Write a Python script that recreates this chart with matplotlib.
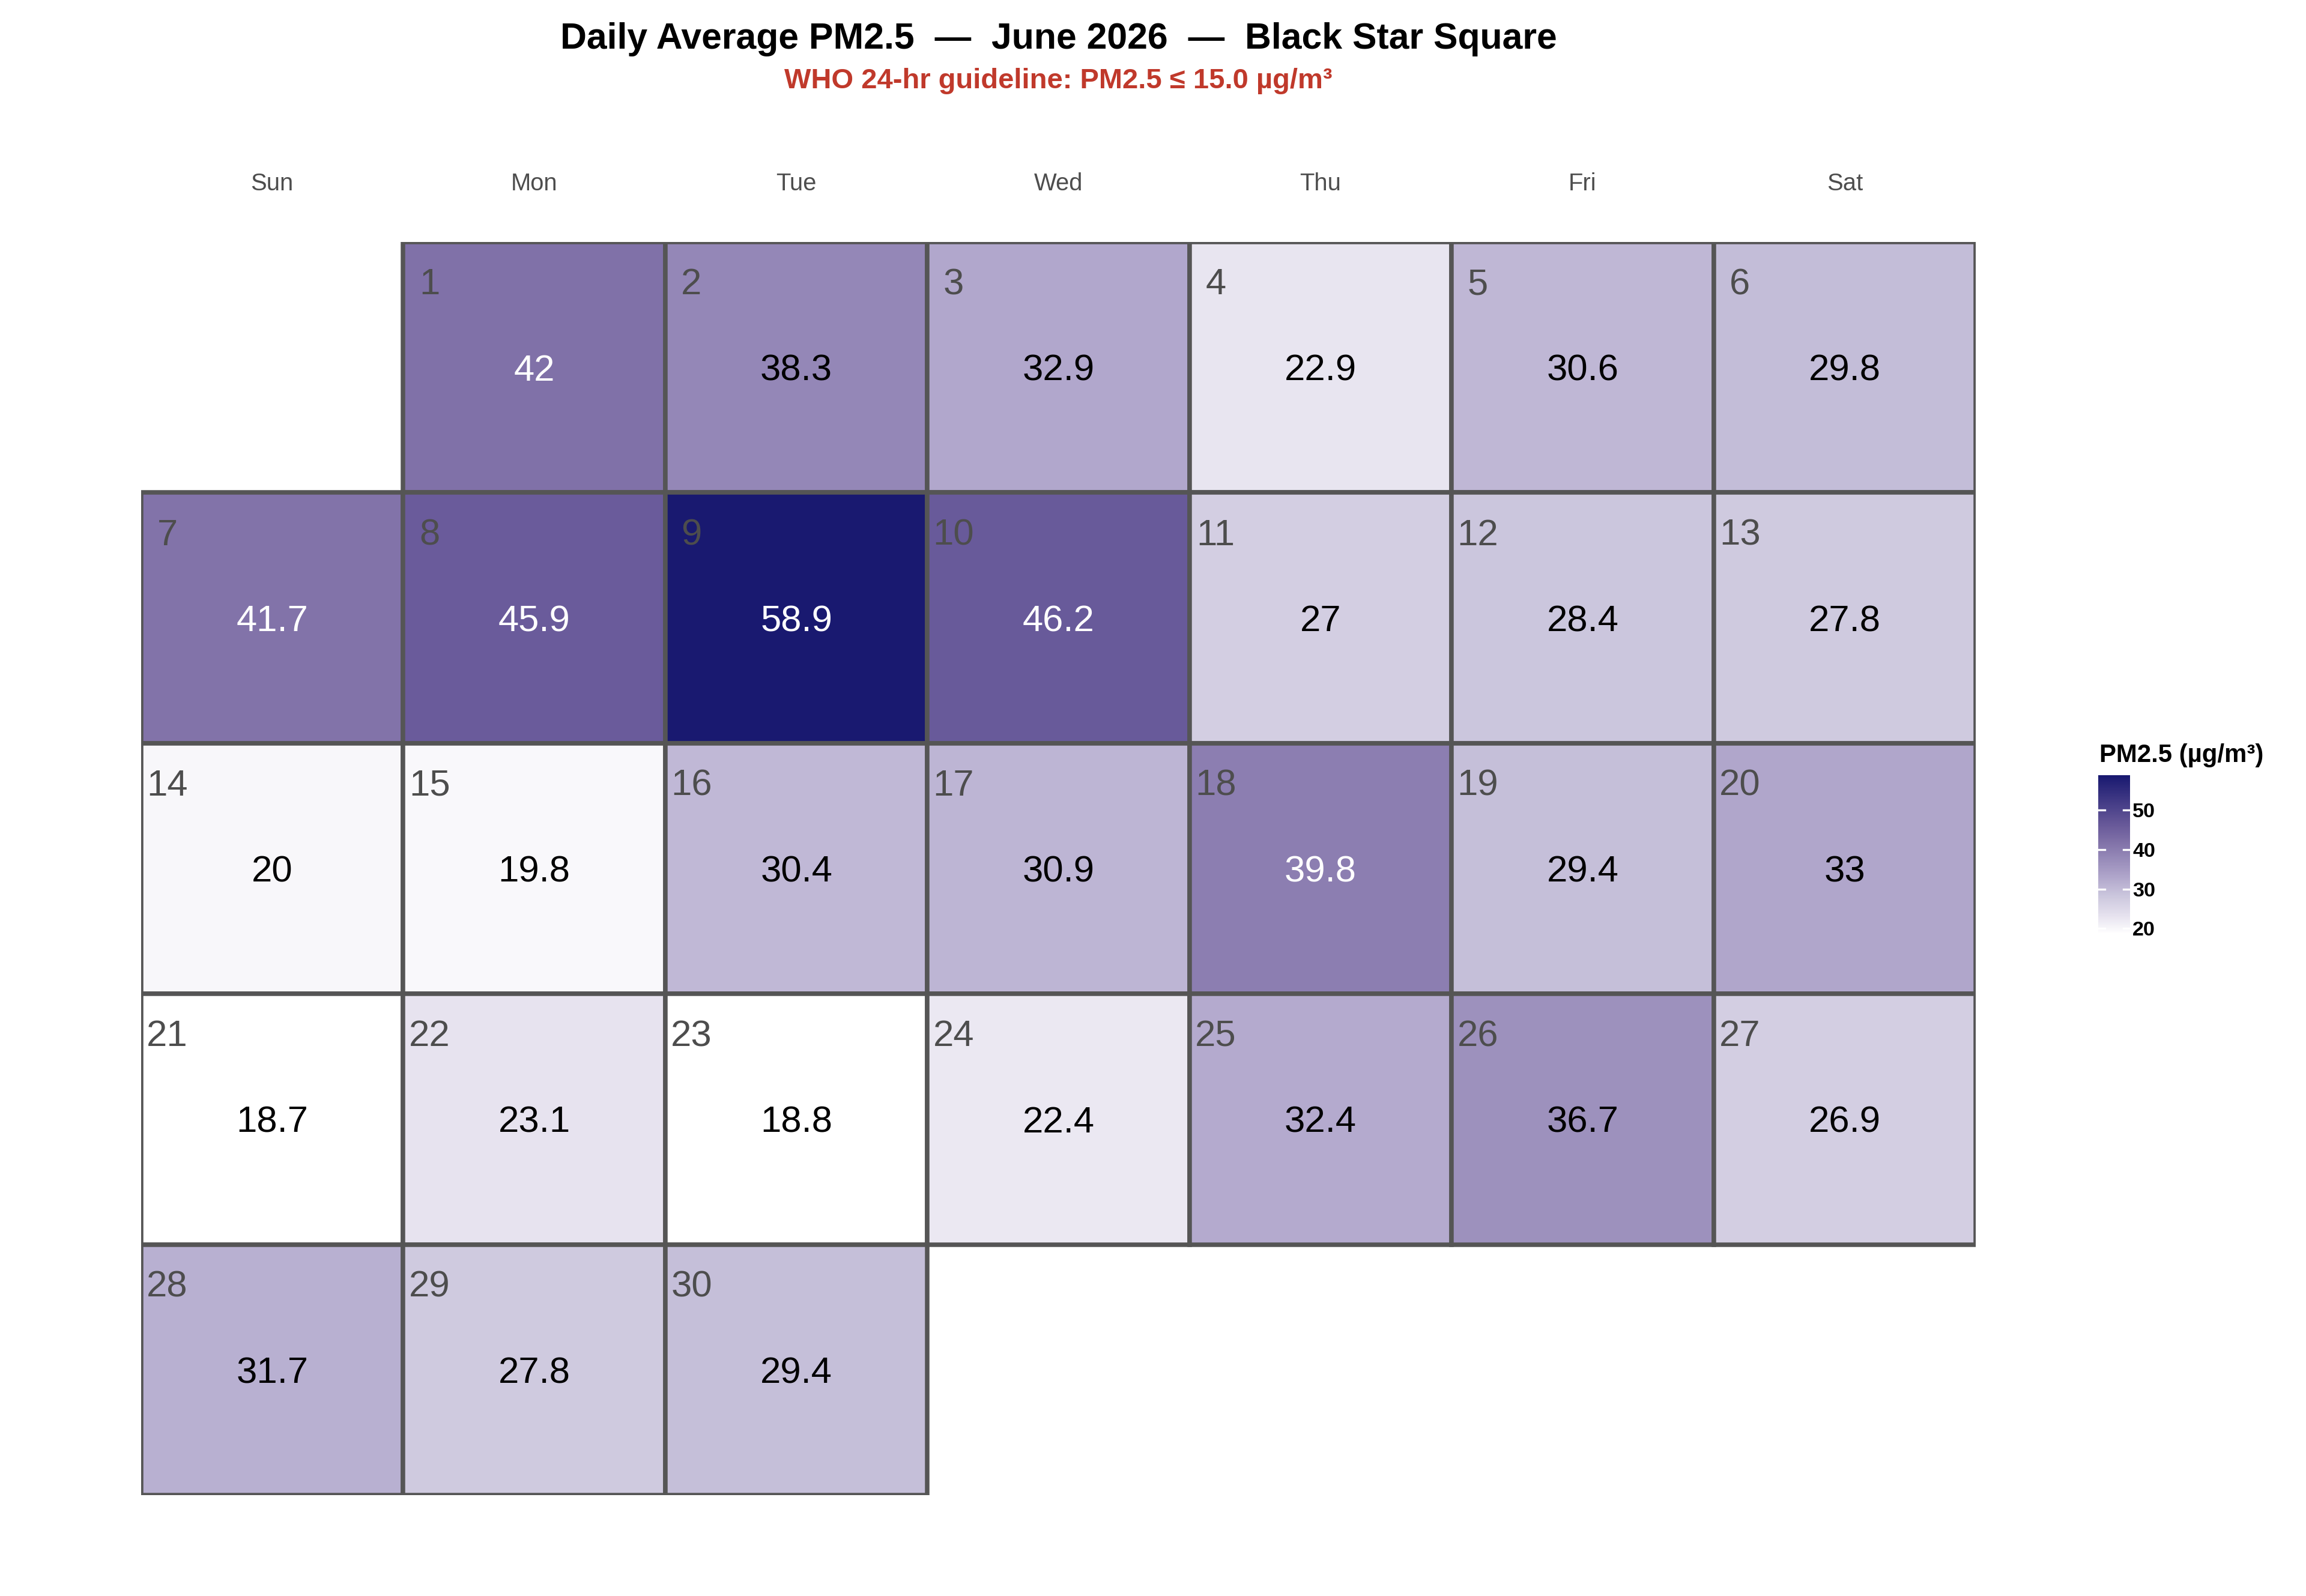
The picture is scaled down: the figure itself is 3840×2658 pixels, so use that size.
import calendar
import numpy as np
import matplotlib
matplotlib.use("Agg")
import matplotlib.pyplot as plt
from matplotlib.colors import LinearSegmentedColormap, Normalize
from matplotlib.patches import Rectangle

plt.rcParams['font.family'] = ['Liberation Sans', 'DejaVu Sans']

# data
year, month = 2026, 6
days = list(range(1, 31))
pm25 = [42, 38.3, 32.9, 22.9, 30.6, 29.8,
        41.7, 45.9, 58.9, 46.2, 27, 28.4, 27.8,
        20, 19.8, 30.4, 30.9, 39.8, 29.4, 33,
        18.7, 23.1, 18.8, 22.4, 32.4, 36.7, 26.9,
        31.7, 27.8, 29.4]
weekdays = ['Sun', 'Mon', 'Tue', 'Wed', 'Thu', 'Fri', 'Sat']
cbar_ticks = [20, 30, 40, 50]

vmin, vmax = min(pm25), max(pm25)
anchors = [(0.0, '#ffffff'), (0.104, '#e8e4f0'), (0.241, '#cbc6dd'),
           (0.353, '#b1a7cc'), (0.580, '#8071a8'), (0.684, '#695a9a'),
           (1.0, '#191970')]
cmap = LinearSegmentedColormap.from_list('pm', anchors)
norm = Normalize(vmin, vmax)

W, H = 3840, 2658
fig = plt.figure(figsize=(W / 300, H / 300), dpi=300)
ax = fig.add_axes([235 / W, 1 - 2490 / H, 3055 / W, 2087 / H])
ax.set_xlim(0, 7)
ax.set_ylim(5, 0)
ax.axis('off')

# sunday-first column of the 1st
first_col = (calendar.weekday(year, month, 1) + 1) % 7
for d, v in zip(days, pm25):
    idx = first_col + d - 1
    col, row = idx % 7, idx // 7
    ax.add_patch(Rectangle((col, row), 1, 1, facecolor=cmap(norm(v)),
                           edgecolor='#555555', linewidth=1.8))
    ax.text(col + 0.1, row + 0.156, str(d), ha='center', va='center_baseline',
            fontsize=14.8, color='#4d4d4d')
    ax.text(col + 0.5, row + 0.5, f"{v:g}", ha='center', va='center_baseline',
            fontsize=14.8, color='white' if v > 39 else 'black')

for i, name in enumerate(weekdays):
    ax.text(i + 0.5, -0.242, name, ha='center', va='center_baseline', fontsize=9.6,
            color='#4d4d4d', clip_on=False)

cx = (235 + 3290) / 2 / W
fig.text(cx, 1 - 81 / H, 'Daily Average PM2.5  \u2014  June 2026  \u2014  Black Star Square',
         ha='center', va='baseline', fontsize=14.6, fontweight='bold')
fig.text(cx, 1 - 147 / H, 'WHO 24-hr guideline: PM2.5 \u2264 15.0 \u00b5g/m\u00b3',
         ha='center', va='baseline', fontsize=11.3, fontweight='bold', color='#c0392b')

# colour bar
cax = fig.add_axes([3494 / W, 1 - 1555 / H, 53 / W, 264 / H])
grad = np.linspace(vmin, vmax, 256).reshape(-1, 1)
cax.imshow(grad, cmap=cmap, norm=norm, aspect='auto', origin='lower',
           extent=(0, 1, vmin, vmax))
for t in cbar_ticks:
    cax.plot([0, 0.2], [t, t], color='white', lw=0.8)
    cax.plot([0.8, 1], [t, t], color='white', lw=0.8)
cax.set_xlim(0, 1)
cax.set_ylim(vmin, vmax)
cax.set_xticks([])
cax.yaxis.tick_right()
cax.set_yticks(cbar_ticks)
cax.set_yticklabels([str(t) for t in cbar_ticks], fontsize=8.2, fontweight='bold')
cax.tick_params(axis='y', length=0, pad=1)
for s in cax.spines.values():
    s.set_visible(False)
fig.text(3496 / W, 1 - 1269 / H, 'PM2.5 (\u00b5g/m\u00b3)', ha='left', va='baseline',
         fontsize=10.1, fontweight='bold')

fig.savefig('out.png', dpi=300, facecolor='white')
